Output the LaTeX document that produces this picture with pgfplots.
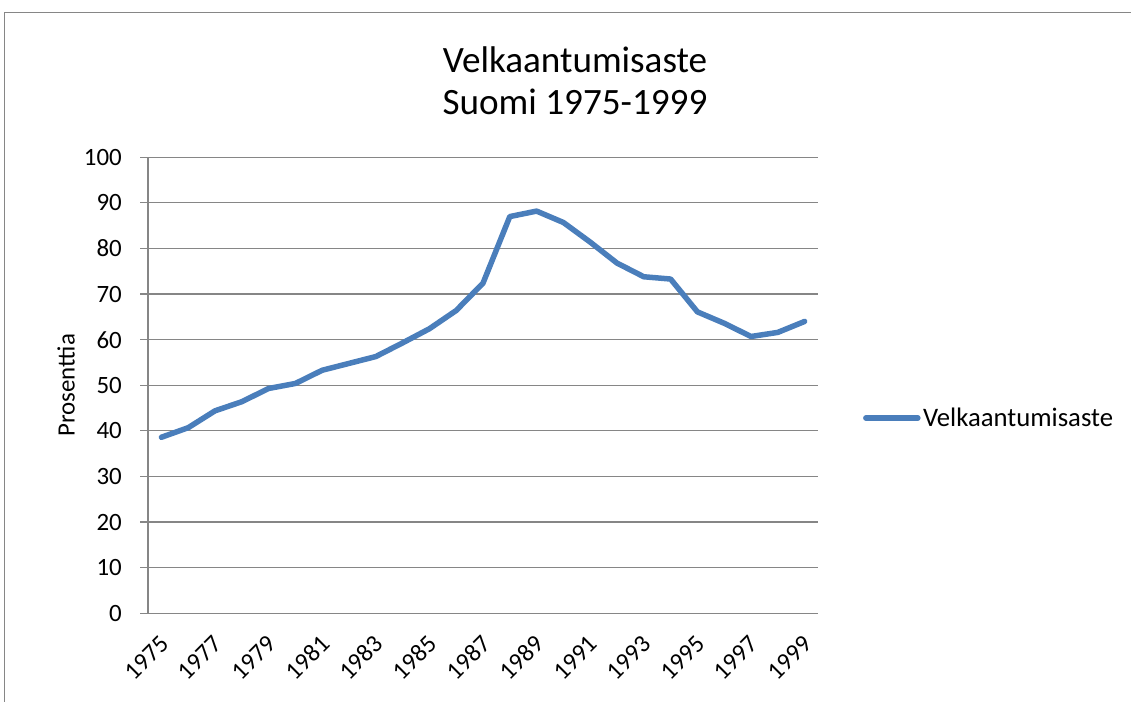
\documentclass[border=0pt]{standalone}
\usepackage{fontspec}
\setmainfont{Carlito}
\usepackage{pgfplots}
\pgfplotsset{compat=1.18}
\definecolor{excelblue}{HTML}{4A7EBB}
\definecolor{axgray}{HTML}{868686}
\begin{document}
\begin{tikzpicture}[x=1bp,y=1bp]
\useasboundingbox (0,0) rectangle (1131,702);
\draw[axgray, line width=1.3bp] (4.5,0) -- (4.5,689.5) -- (1131,689.5);
\node[font=\fontsize{37.3}{42}\selectfont, align=center] at (575,621) {Velkaantumisaste\\Suomi 1975-1999};
\begin{axis}[
  at={(148bp,88.7bp)}, anchor=south west,
  width=670bp, height=456bp, scale only axis,
  xmin=-0.5, xmax=24.5, ymin=0, ymax=100,
  axis lines*=left,
  axis line style={-, axgray, line width=1.3bp},
  ytick={0,10,...,100},
  xtick={0,2,...,24},
  xticklabels={1975,1977,1979,1981,1983,1985,1987,1989,1991,1993,1995,1997,1999},
  xtick style={draw=none},
  extra x ticks={-0.5,0.5,1.5,2.5,3.5,4.5,5.5,6.5,7.5,8.5,9.5,10.5,11.5,12.5,13.5,14.5,15.5,16.5,17.5,18.5,19.5,20.5,21.5,22.5,23.5,24.5},
  extra x tick labels={},
  extra x tick style={grid=none, tick style={draw=axgray, line width=1.2bp}},
  ytick style={draw=axgray, line width=1.2bp},
  tick align=outside,
  major tick length=8bp,
  ymajorgrids,
  grid style={axgray, line width=1.2bp},
  ticklabel style={font=\fontsize{25}{30}\selectfont},
  /pgf/number format/assume math mode=true,
  yticklabel style={inner sep=0pt, xshift=-18bp},
  xticklabel style={rotate=45, anchor=east, inner sep=0pt, xshift=-10.8bp, yshift=-15.2bp},
  ylabel={Prosenttia},
  ylabel style={font=\fontsize{25}{30}\selectfont, at={(axis description cs:-0.1224,0.5)}, anchor=center},
  legend style={at={(axis description cs:1.067,0.4283)}, anchor=west, draw=none, fill=none,
    font=\fontsize{26.8}{31}\selectfont, inner sep=0pt, nodes={inner sep=2.5bp}},
  legend image code/.code={\draw[#1] (0bp,0bp) -- (52bp,0bp);},
]
\addplot[excelblue, line width=5.5bp, line join=round, line cap=round] coordinates {
(0,38.6) (1,40.7) (2,44.4) (3,46.4) (4,49.3) (5,50.4) (6,53.3) (7,54.8) (8,56.3) (9,59.3)
(10,62.4) (11,66.4) (12,72.4) (13,87.0) (14,88.2) (15,85.7) (16,81.4) (17,76.8) (18,73.8)
(19,73.3) (20,66.1) (21,63.6) (22,60.7) (23,61.6) (24,64.0)
};
\addlegendentry{Velkaantumisaste}
\end{axis}
\end{tikzpicture}
\end{document}
